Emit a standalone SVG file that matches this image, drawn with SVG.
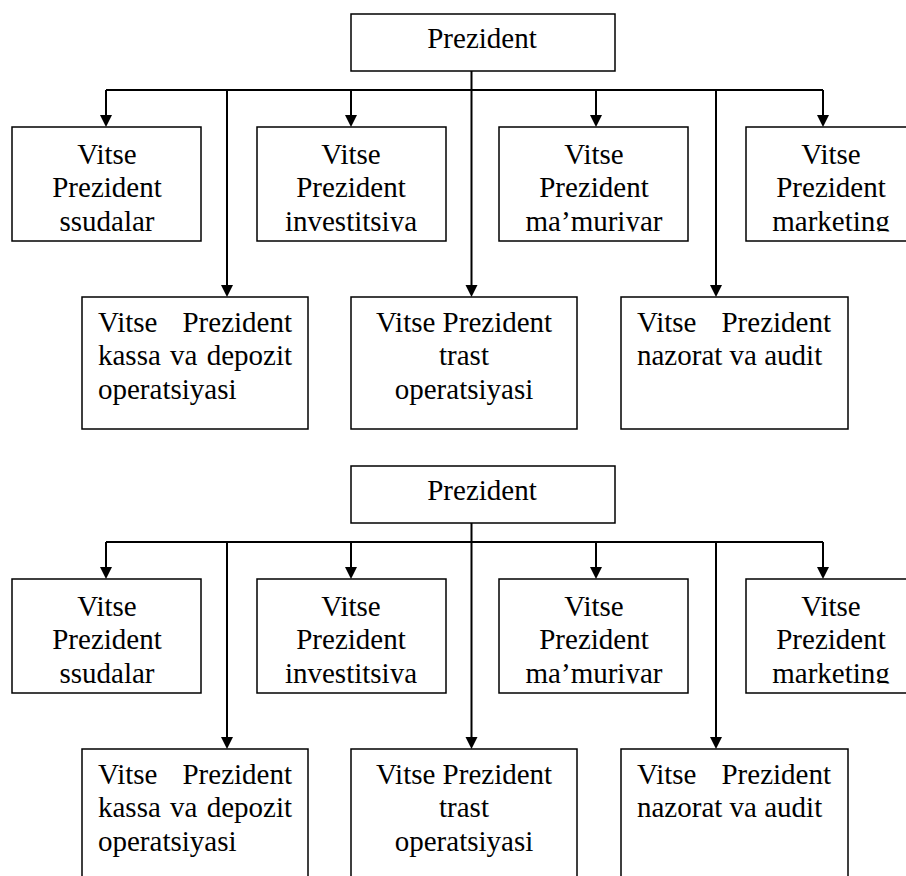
<svg xmlns="http://www.w3.org/2000/svg" width="906" height="876" viewBox="0 0 906 876">
  <style>
    .box { fill: #fff; stroke: #000; stroke-width: 1.5; }
    .lbl { font-size: 29px; fill: #000; }
    .mid { text-anchor: middle; }
    .end { text-anchor: end; }
    .wire { fill: none; stroke: #000; stroke-width: 2; }
  </style>
  <defs>
    <!-- labels in the upper row are cut just under their last baseline -->
    <clipPath id="rowClip" clipPathUnits="userSpaceOnUse">
      <rect x="0" y="0" width="906" height="231.5"/>
    </clipPath>
    <path id="tip" d="M-6,-12 L6,-12 L0,0 z" fill="#000"/>
  </defs>
  <rect width="906" height="876" fill="#fff"/>

  <!-- first chart -->
  <g id="chart-1">
    <g id="connectors-1">
      <path class="wire" d="M106,90 H823 M471.5,71 V286 M106,90 V116 M351,90 V116 M596,90 V116 M823,90 V116 M227,90 V286 M716,90 V286"/>
      <use href="#tip" x="471.5" y="297"/>
      <use href="#tip" x="106" y="127"/>
      <use href="#tip" x="351" y="127"/>
      <use href="#tip" x="596" y="127"/>
      <use href="#tip" x="823" y="127"/>
      <use href="#tip" x="227" y="297"/>
      <use href="#tip" x="716" y="297"/>
    </g>
    <g id="president-1">
      <rect class="box" x="351" y="14" width="264" height="57"/>
      <text class="lbl mid" font-family="Liberation Serif" x="482" y="48">Prezident</text>
    </g>
    <g id="vp-ssudalar-1">
      <rect class="box" x="12" y="127" width="189" height="114"/>
      <g clip-path="url(#rowClip)">
        <text class="lbl mid" font-family="Liberation Serif" x="107" y="163.5">Vitse</text>
        <text class="lbl mid" font-family="Liberation Serif" x="107" y="197">Prezident</text>
        <text class="lbl mid" font-family="Liberation Serif" x="107" y="230.5">ssudalar</text>
      </g>
    </g>
    <g id="vp-investitsiya-1">
      <rect class="box" x="257" y="127" width="189" height="114"/>
      <g clip-path="url(#rowClip)">
        <text class="lbl mid" font-family="Liberation Serif" x="351" y="163.5">Vitse</text>
        <text class="lbl mid" font-family="Liberation Serif" x="351" y="197">Prezident</text>
        <text class="lbl mid" font-family="Liberation Serif" x="351" y="230.5">investitsiya</text>
      </g>
    </g>
    <g id="vp-mamuriyar-1">
      <rect class="box" x="499" y="127" width="189" height="114"/>
      <g clip-path="url(#rowClip)">
        <text class="lbl mid" font-family="Liberation Serif" x="594" y="163.5">Vitse</text>
        <text class="lbl mid" font-family="Liberation Serif" x="594" y="197">Prezident</text>
        <text class="lbl mid" font-family="Liberation Serif" x="594" y="230.5">ma’muriyar</text>
      </g>
    </g>
    <g id="vp-marketing-1">
      <rect class="box" x="746" y="127" width="190" height="114"/>
      <g clip-path="url(#rowClip)">
        <text class="lbl mid" font-family="Liberation Serif" x="831" y="163.5">Vitse</text>
        <text class="lbl mid" font-family="Liberation Serif" x="831" y="197">Prezident</text>
        <text class="lbl mid" font-family="Liberation Serif" x="831" y="230.5">marketing</text>
      </g>
    </g>
    <g id="vp-kassa-1">
      <rect class="box" x="82" y="297" width="226" height="132"/>
      <text class="lbl" font-family="Liberation Serif" x="98" y="331.5">Vitse</text>
      <text class="lbl end" font-family="Liberation Serif" x="292" y="331.5">Prezident</text>
      <text class="lbl" font-family="Liberation Serif" x="98" y="365" word-spacing="2">kassa va depozit</text>
      <text class="lbl" font-family="Liberation Serif" x="98" y="398.5">operatsiyasi</text>
    </g>
    <g id="vp-trast-1">
      <rect class="box" x="351" y="297" width="226" height="132"/>
      <text class="lbl mid" font-family="Liberation Serif" x="464" y="331.5">Vitse Prezident</text>
      <text class="lbl mid" font-family="Liberation Serif" x="464" y="365">trast</text>
      <text class="lbl mid" font-family="Liberation Serif" x="464" y="398.5">operatsiyasi</text>
    </g>
    <g id="vp-nazorat-1">
      <rect class="box" x="621" y="297" width="227" height="132"/>
      <text class="lbl" font-family="Liberation Serif" x="637" y="331.5">Vitse</text>
      <text class="lbl end" font-family="Liberation Serif" x="831" y="331.5">Prezident</text>
      <text class="lbl" font-family="Liberation Serif" x="637" y="365">nazorat va audit</text>
    </g>
  </g>

  <!-- second chart, same layout one step lower -->
  <g id="chart-2" transform="translate(0,452)">
    <g id="connectors-2">
      <path class="wire" d="M106,90 H823 M471.5,71 V286 M106,90 V116 M351,90 V116 M596,90 V116 M823,90 V116 M227,90 V286 M716,90 V286"/>
      <use href="#tip" x="471.5" y="297"/>
      <use href="#tip" x="106" y="127"/>
      <use href="#tip" x="351" y="127"/>
      <use href="#tip" x="596" y="127"/>
      <use href="#tip" x="823" y="127"/>
      <use href="#tip" x="227" y="297"/>
      <use href="#tip" x="716" y="297"/>
    </g>
    <g id="president-2">
      <rect class="box" x="351" y="14" width="264" height="57"/>
      <text class="lbl mid" font-family="Liberation Serif" x="482" y="48">Prezident</text>
    </g>
    <g id="vp-ssudalar-2">
      <rect class="box" x="12" y="127" width="189" height="114"/>
      <g clip-path="url(#rowClip)">
        <text class="lbl mid" font-family="Liberation Serif" x="107" y="163.5">Vitse</text>
        <text class="lbl mid" font-family="Liberation Serif" x="107" y="197">Prezident</text>
        <text class="lbl mid" font-family="Liberation Serif" x="107" y="230.5">ssudalar</text>
      </g>
    </g>
    <g id="vp-investitsiya-2">
      <rect class="box" x="257" y="127" width="189" height="114"/>
      <g clip-path="url(#rowClip)">
        <text class="lbl mid" font-family="Liberation Serif" x="351" y="163.5">Vitse</text>
        <text class="lbl mid" font-family="Liberation Serif" x="351" y="197">Prezident</text>
        <text class="lbl mid" font-family="Liberation Serif" x="351" y="230.5">investitsiya</text>
      </g>
    </g>
    <g id="vp-mamuriyar-2">
      <rect class="box" x="499" y="127" width="189" height="114"/>
      <g clip-path="url(#rowClip)">
        <text class="lbl mid" font-family="Liberation Serif" x="594" y="163.5">Vitse</text>
        <text class="lbl mid" font-family="Liberation Serif" x="594" y="197">Prezident</text>
        <text class="lbl mid" font-family="Liberation Serif" x="594" y="230.5">ma’muriyar</text>
      </g>
    </g>
    <g id="vp-marketing-2">
      <rect class="box" x="746" y="127" width="190" height="114"/>
      <g clip-path="url(#rowClip)">
        <text class="lbl mid" font-family="Liberation Serif" x="831" y="163.5">Vitse</text>
        <text class="lbl mid" font-family="Liberation Serif" x="831" y="197">Prezident</text>
        <text class="lbl mid" font-family="Liberation Serif" x="831" y="230.5">marketing</text>
      </g>
    </g>
    <g id="vp-kassa-2">
      <rect class="box" x="82" y="297" width="226" height="132"/>
      <text class="lbl" font-family="Liberation Serif" x="98" y="331.5">Vitse</text>
      <text class="lbl end" font-family="Liberation Serif" x="292" y="331.5">Prezident</text>
      <text class="lbl" font-family="Liberation Serif" x="98" y="365" word-spacing="2">kassa va depozit</text>
      <text class="lbl" font-family="Liberation Serif" x="98" y="398.5">operatsiyasi</text>
    </g>
    <g id="vp-trast-2">
      <rect class="box" x="351" y="297" width="226" height="132"/>
      <text class="lbl mid" font-family="Liberation Serif" x="464" y="331.5">Vitse Prezident</text>
      <text class="lbl mid" font-family="Liberation Serif" x="464" y="365">trast</text>
      <text class="lbl mid" font-family="Liberation Serif" x="464" y="398.5">operatsiyasi</text>
    </g>
    <g id="vp-nazorat-2">
      <rect class="box" x="621" y="297" width="227" height="132"/>
      <text class="lbl" font-family="Liberation Serif" x="637" y="331.5">Vitse</text>
      <text class="lbl end" font-family="Liberation Serif" x="831" y="331.5">Prezident</text>
      <text class="lbl" font-family="Liberation Serif" x="637" y="365">nazorat va audit</text>
    </g>
  </g>
</svg>
